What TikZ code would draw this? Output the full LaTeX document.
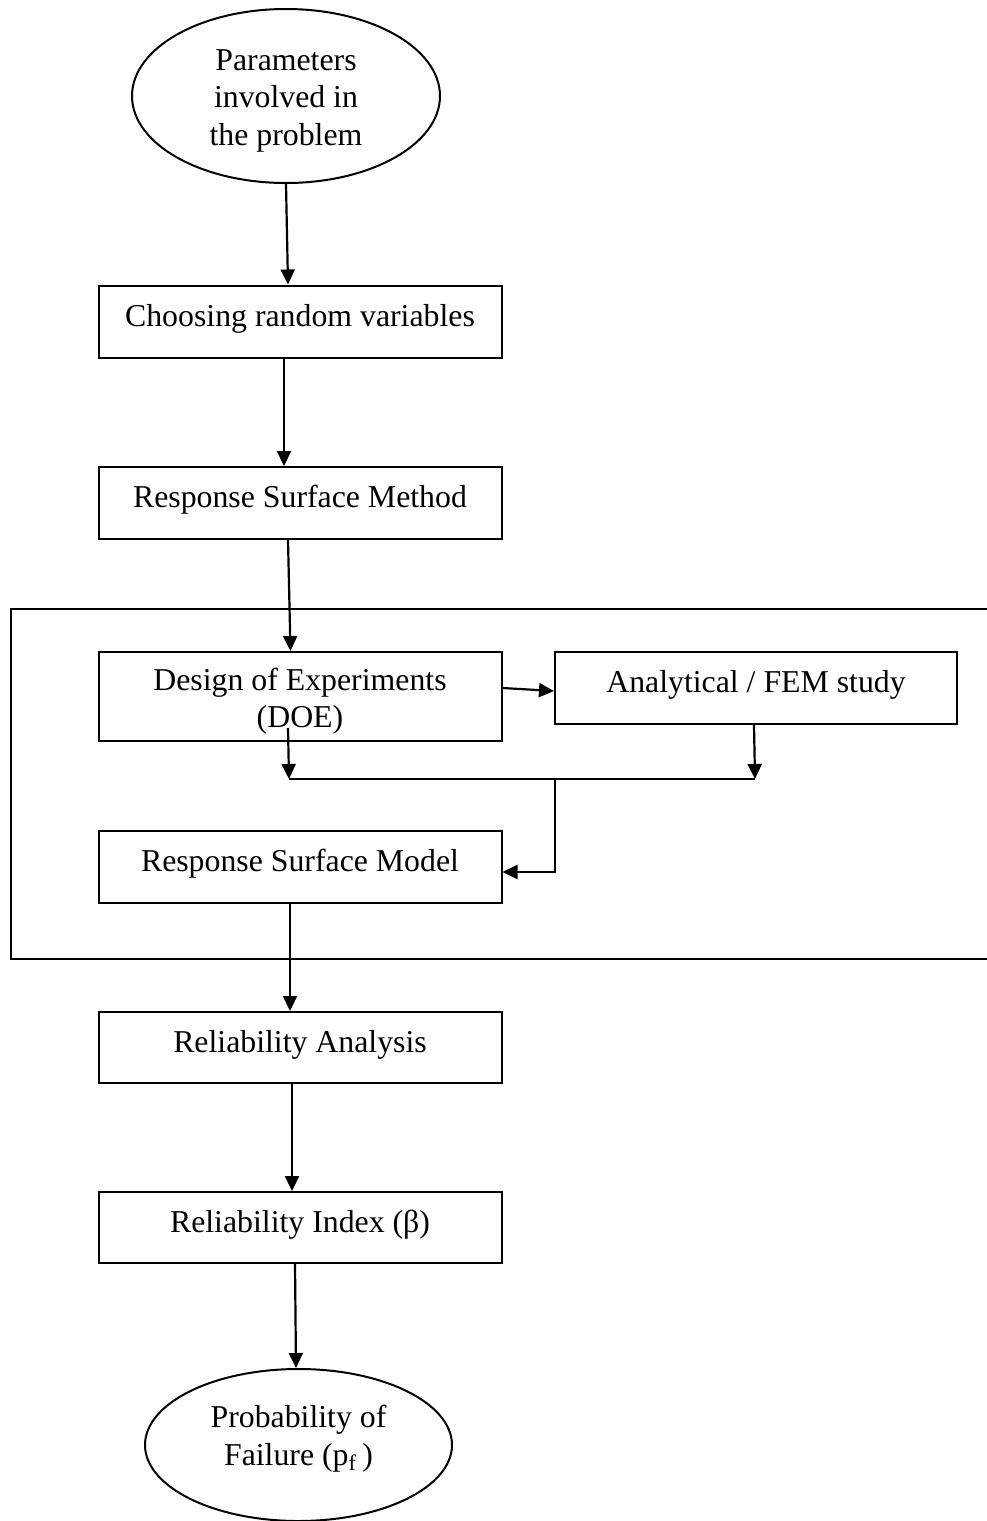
\documentclass[tikz,border=0pt]{standalone}
\usepackage{fontspec}
\setmainfont{Liberation Serif}
\usetikzlibrary{shapes.geometric,arrows.meta,calc}
\begin{document}
\begin{tikzpicture}[x=0.5pt,y=-0.5pt,
  every node/.style={font=\fontsize{15.9}{18.75}\selectfont, inner sep=1pt},
  box/.style={draw, line width=1pt, minimum width=201.5pt, minimum height=36pt, text height=11pt, text depth=6.5pt},
  oval/.style={draw, ellipse, line width=1pt, align=center},
  arr/.style={line width=1.1pt, -{Triangle[length=7.5pt,width=7pt]}},
  ln/.style={line width=1.1pt},
  frame/.style={line width=1pt}]
\fill[white] (0,0) rectangle (986,1521);
\useasboundingbox (0,0) rectangle (986,1521);

\node[oval, minimum width=154pt, minimum height=87pt] (top) at (286,96)
  {\rule{0pt}{15pt}Parameters\\involved in\\the problem};
\node[box] (choose) at (300,321.5) {Choosing random variables};
\node[box] (rsm) at (300,503) {Response Surface Method};
\node[draw, line width=1pt, minimum width=201.5pt, minimum height=44.5pt, align=center] (doe) at (300,696.5)
  {\rule{0pt}{16pt}Design of Experiments\\(DOE)};
\node[box, minimum width=201pt] (ana) at (756,688) {Analytical / FEM study};
\node[box] (rsmod) at (300,867) {Response Surface Model};
\node[box, minimum height=35.5pt] (ra) at (300,1047.5) {Reliability Analysis};
\node[box, minimum height=35.5pt] (ri) at (300,1227.5) {Reliability Index (β)};
\node[oval, minimum width=153.5pt, minimum height=76pt] (fail) at (298.5,1445)
  {Probability of\\Failure (p\textsubscript{f}\,)\rule[-9.5pt]{0pt}{0pt}};

% group frame, open at the right
\draw[frame] (987,609) -- (11,609) -- (11,959) -- (987,959);

\coordinate (m1) at (289,779);
\coordinate (m2) at (755,779);
\coordinate (m3) at (555,779);

\draw[arr] (top.south) -- ($(choose.north west)+(190.5,0)$);
\draw[arr] ($(choose.south west)+(186.5,0)$) -- ($(rsm.north west)+(186.5,0)$);
\draw[arr] ($(rsm.south west)+(190.5,0)$) -- ($(doe.north west)+(193,0)$);
\draw[arr] ($(doe.north east)+(0,37)$) -- ($(ana.north west)+(0,40)$);
\draw[arr] ($(doe.south west)+(190.5,-14)$) -- (m1);
\draw[arr] ($(ana.south west)+(200,0)$) -- (m2);
\draw[ln] (m1) -- (m2);
\draw[arr] (m3) |- ($(rsmod.east)+(0,5)$);
\draw[arr] ($(rsmod.south west)+(192.5,0)$) -- ($(ra.north west)+(192.5,0)$);
\draw[arr] ($(ra.south west)+(194.5,0)$) -- ($(ri.north west)+(194.5,0)$);
\draw[arr] ($(ri.south west)+(197.5,0)$) -- ($(fail.north)+(-2.5,0)$);
\end{tikzpicture}
\end{document}
